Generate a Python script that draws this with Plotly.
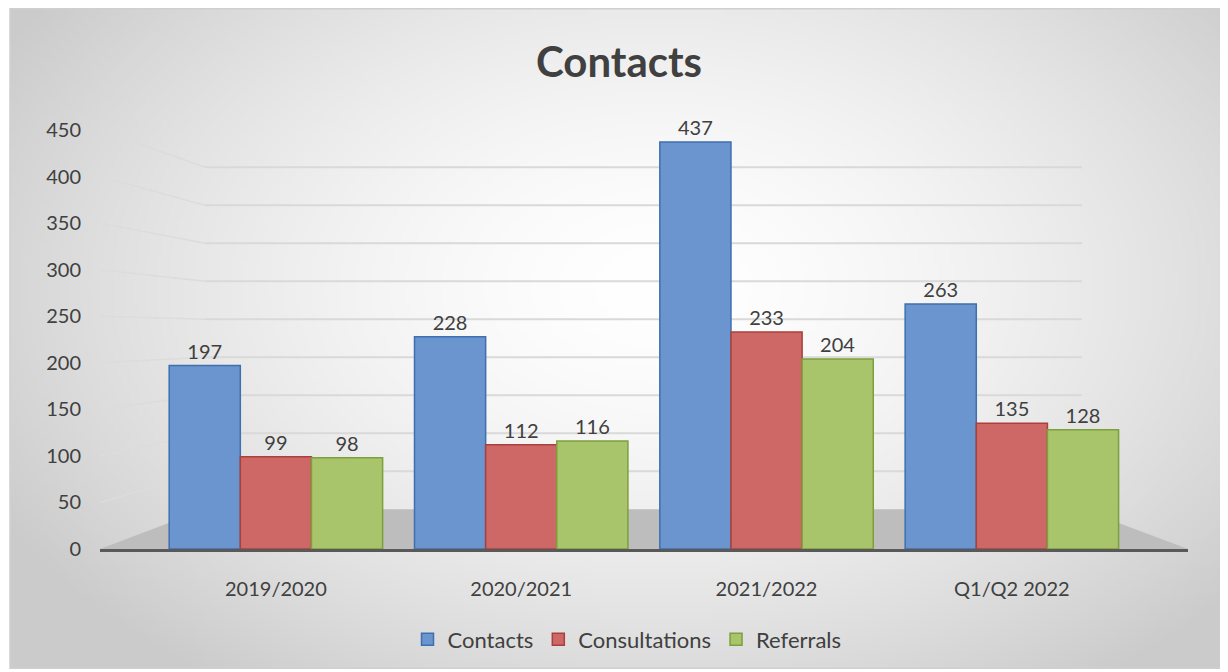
import base64, struct, zlib
import numpy as np
import plotly.graph_objects as go

categories = ["2019/2020", "2020/2021", "2021/2022", "Q1/Q2 2022"]
contacts = [197, 228, 437, 263]
consultations = [99, 112, 233, 135]
referrals = [98, 116, 204, 128]
y_ticks = [0, 50, 100, 150, 200, 250, 300, 350, 400, 450]

# page body has an 8px margin; screenshot coords = figure coords + 8
OFF = 8
W, H = 1228 - OFF, 672 - OFF
PL, PR, PT, PB = 100, 1188, 130, 552          # plot area in screenshot px
ML, MR, MT, MB = PL - OFF, W - (PR - OFF), PT - OFF, H - (PB - OFF)
PW, PH = PR - PL, PB - PT


def px_x(p):
    return (p - PL) / PW


def px_y(p):
    return (PB - p) / PH


# radial gradient background as PNG data uri
gw, gh = 300, 164
xx, yy = np.meshgrid(np.linspace(0, 1, gw), np.linspace(0, 1, gh))
r = np.sqrt(((xx - 0.53) / 0.62) ** 2 + ((yy - 0.42) / 0.75) ** 2)
val = 255 - 52 * np.clip(r, 0, 1) ** 1.6
img = val.astype(np.uint8)
raw = b"".join(b"\x00" + row.tobytes() for row in img)


def chunk(t, d):
    c = struct.pack(">I", len(d)) + t + d
    return c + struct.pack(">I", zlib.crc32(t + d) & 0xFFFFFFFF)


png = b"\x89PNG\r\n\x1a\n" + chunk(b"IHDR", struct.pack(">IIBBBBB", gw, gh, 8, 0, 0, 0, 0)) \
    + chunk(b"IDAT", zlib.compress(raw, 9)) + chunk(b"IEND", b"")
uri = "data:image/png;base64," + base64.b64encode(png).decode()

font = "Lato, 'Open Sans', sans-serif"
txt = "#404040"

series = [
    ("Contacts", contacts, "#6A95CE", "#3E6FAF"),
    ("Consultations", consultations, "#CD6866", "#A9403D"),
    ("Referrals", referrals, "#A8C56C", "#7E9F3D"),
]

fig = go.Figure()
for name, vals, col, lc in series:
    fig.add_trace(go.Bar(
        x=categories, y=vals, name=name,
        marker=dict(color=col, line=dict(color=lc, width=1.5)),
        text=[str(v) for v in vals], textposition="outside",
        textfont=dict(size=20, color=txt, family=font),
        cliponaxis=False,
    ))

shapes = []
# floor
fx0, fx1 = px_x(205), px_x(1082)
fy = px_y(512)
shapes.append(dict(type="path", xref="paper", yref="paper", layer="below",
                   path=f"M 0,0 L 1,0 L {fx1},{fy} L {fx0},{fy} Z",
                   fillcolor="#BDBDBD", line=dict(width=0)))
# back-wall gridlines (perspective)
for v in y_ticks[1:]:
    yb = 42.6 + 0.8166 * v
    shapes.append(dict(type="line", xref="paper", yref="y", layer="below",
                       x0=0, y0=v, x1=fx0, y1=yb,
                       line=dict(color="#DCDCDC", width=1.5)))
    shapes.append(dict(type="line", xref="paper", yref="y", layer="below",
                       x0=fx0, y0=yb, x1=fx1, y1=yb,
                       line=dict(color="#D9D9D9", width=2)))
# chart border
shapes.append(dict(type="rect", xref="paper", yref="paper", layer="below",
                   x0=px_x(10), x1=px_x(1228), y0=px_y(672), y1=px_y(8),
                   line=dict(color="#CFCFCF", width=1.5)))

fig.update_layout(
    width=W, height=H,
    margin=dict(l=ML, r=MR, t=MT, b=MB),
    paper_bgcolor="white", plot_bgcolor="rgba(0,0,0,0)",
    barmode="group", bargap=0.13, bargroupgap=0.0,
    title=dict(text="<b>Contacts</b>", xref="container", x=(619 - OFF) / W,
               xanchor="center", yref="container", y=1 - (62 - OFF) / H,
               yanchor="middle", font=dict(size=42, color=txt, family=font)),
    font=dict(family=font, color=txt, size=20),
    xaxis=dict(range=[-0.717, 3.718], showgrid=False, showline=True,
               linecolor="#595959", linewidth=3, ticks="",
               tickfont=dict(size=20, color=txt), ticklabelstandoff=20),
    yaxis=dict(range=[0, 450], tickvals=y_ticks, showgrid=False,
               zeroline=False, showline=False, ticks="",
               tickfont=dict(size=20, color=txt), ticklabelstandoff=18),
    legend=dict(orientation="h", x=px_x(627), xanchor="center",
                y=px_y(643), yanchor="middle", font=dict(size=22, color=txt),
                bgcolor="rgba(0,0,0,0)", itemwidth=30, tracegroupgap=0),
    shapes=shapes,
    images=[dict(source=uri, xref="paper", yref="paper", x=px_x(10), y=px_y(8),
                 sizex=(1228 - 10) / PW, sizey=(672 - 8) / PH, sizing="stretch",
                 xanchor="left", yanchor="top", layer="below")],
    showlegend=True,
)

fig.write_html("out.html")
